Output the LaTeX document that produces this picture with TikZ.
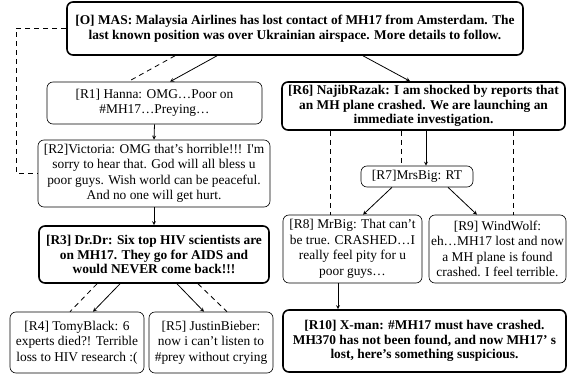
\documentclass[tikz,border=0pt]{standalone}
\usepackage{fontspec}
\setmainfont{Liberation Serif}[Ligatures=TeXOff]
\begin{document}
\begin{tikzpicture}[x=1pt,y=-1pt,font=\fontsize{13.4}{15.5}\selectfont,line join=round,>=stealth,
	tweet/.style={draw,rounded corners=6pt,line width=0.6pt,align=center,inner sep=1pt},
	keytweet/.style={tweet,line width=1.6pt,font=\fontsize{13.4}{14.5}\selectfont\bfseries},
	link/.style={line width=0.8pt,dash pattern=on 5pt off 4pt},
	flow/.style={->,line width=0.8pt}]
	\useasboundingbox (0,0) rectangle (570,374);
	% original post and its two branches
	\node[keytweet,minimum width=456pt,minimum height=53pt] (O) at (295,28.5) {[O] MAS: Malaysia Airlines has lost contact of MH17 from Amsterdam. The\\last known position was over Ukrainian airspace. More details to follow.};
	\node[tweet,minimum width=215pt,minimum height=42pt] (R1) at (154.5,103) {[R1] Hanna: OMG…Poor on\\\#MH17…Preying…};
	\node[tweet,minimum width=232pt,minimum height=67pt] (R2) at (154,173.5) {[R2]Victoria: OMG that’s horrible!!! I'm\\sorry to hear that. God will all bless u\\poor guys. Wish world can be peaceful.\\And no one will get hurt.};
	\node[keytweet,minimum width=230pt,minimum height=57pt] (R3) at (154,254.5) {[R3] Dr.Dr: Six top HIV scientists are\\on MH17. They go for AIDS and\\would NEVER come back!!!};
	\node[tweet,minimum width=134pt,minimum height=61pt] (R4) at (77,342.5) {[R4] TomyBlack: 6\\experts died?! Terrible\\loss to HIV research :(};
	\node[tweet,minimum width=124pt,minimum height=61pt] (R5) at (211,342.5) {[R5] JustinBieber:\\now i can’t listen to\\\#prey without crying};
	\node[keytweet,minimum width=283pt,minimum height=48pt] (R6) at (423.5,106) {[R6] NajibRazak: I am shocked by reports that\\an MH plane crashed. We are launching an\\immediate investigation.};
	\node[tweet,minimum width=112pt,minimum height=21pt] (R7) at (417,176.5) {[R7]MrsBig: RT};
	\node[tweet,minimum width=139pt,minimum height=68pt] (R8) at (352.5,249) {[R8] MrBig: That can’t\\be true. CRASHED…I\\really feel pity for u\\poor guys…};
	\node[tweet,minimum width=137pt,minimum height=68pt] (R9) at (497.5,249) {[R9] WindWolf:\\eh…MH17 lost and now\\a MH plane is found\\crashed. I feel terrible.};
	\node[keytweet,minimum width=283pt,minimum height=62pt] (R10) at (424.5,341) {[R10] X-man: \#MH17 must have crashed.\\MH370 has not been found, and now MH17’ s\\lost, here’s something suspicious.};
	% left branch
	\draw[link] ([xshift=-120pt]O.south) -- ([xshift=-26.5pt]R1.north);
	\draw[flow] ([xshift=-78pt]O.south) -- ([xshift=15.5pt]R1.north);
	\draw[link] (O.west) -- ++(-50,0) |- (R2.west);
	\draw[flow] (R1.south) -- (R2.north);
	\draw[flow] (R2.south) -- (R3.north);
	\draw[link] ([xshift=-57pt]R3.south) -- ([xshift=-7pt]R4.north);
	\draw[flow] ([xshift=-34pt]R3.south) -- ([xshift=16pt]R4.north);
	\draw[flow] ([xshift=23pt]R3.south) -- ([xshift=-7pt]R5.north);
	\draw[link] ([xshift=44pt]R3.south) -- ([xshift=16pt]R5.north);
	% right branch
	\draw[flow] ([xshift=68pt]O.south) -- ([xshift=-13.5pt]R6.north);
	\draw[link] ([xshift=-22.5pt]R8.north |- R6.south) -- ([xshift=-22.5pt]R8.north);
	\draw[link] ([xshift=-16pt]R7.north |- R6.south) -- ([xshift=-16pt]R7.north);
	\draw[link] ([xshift=15.5pt]R9.north |- R6.south) -- ([xshift=15.5pt]R9.north);
	\draw[flow] ([xshift=9pt]R7.north |- R6.south) -- ([xshift=9pt]R7.north);
	\draw[flow] ([xshift=-25pt]R7.south) -- ([xshift=10.5pt]R8.north);
	\draw[flow] ([xshift=31pt]R7.south) -- ([xshift=-20.5pt]R9.north);
	\draw[flow] ([xshift=-14.5pt]R8.south) -- ([xshift=-14.5pt]R8.south |- R10.north);
\end{tikzpicture}
\end{document}
